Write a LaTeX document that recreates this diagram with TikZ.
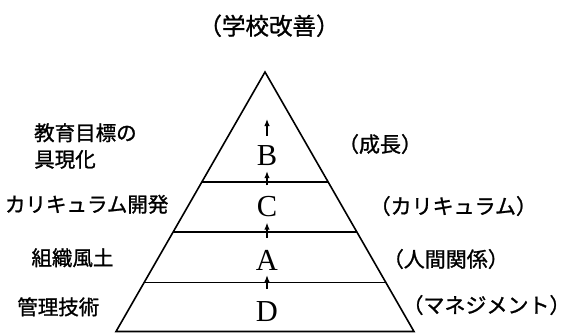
\documentclass[tikz,border=0pt]{standalone}
\usepackage{fontspec}
\setmainfont{Liberation Serif}
\newfontfamily\jp{Noto Sans CJK JP}[FakeBold=1.2]
\newcommand\lpar{\makebox[0.55em][r]{（}}
\newcommand\rpar{\makebox[0.55em][l]{）}}
\usetikzlibrary{calc,arrows.meta}
\begin{document}
\begin{tikzpicture}[x=1pt,y=-1pt,
  edge/.style={line width=1.6pt, line join=miter},
  letter/.style={inner sep=0pt, anchor=base, font=\fontsize{30.5}{30}\selectfont, text height=20pt, text depth=0pt},
  lab/.style={inner sep=0pt, anchor=base, font=\jp\fontsize{20.5}{24}\selectfont},
  rlab/.style={inner sep=0pt, anchor=base, font=\jp\fontsize{21}{24}\selectfont},
  toplab/.style={inner sep=0pt, anchor=base, font=\jp\fontsize{23.5}{26}\selectfont},
  arr/.style={line width=1.2pt, -{Latex[length=7pt,width=5.5pt]}}]
\useasboundingbox (0,0) rectangle (562,333);
% pyramid
\coordinate (apex) at (265,72);
\coordinate (bl) at (116,331.5);
\coordinate (br) at (414,331.5);
\draw[edge] (apex) -- (bl) -- (br) -- cycle;
\foreach \t in {0.424,0.6165,0.8104}
  \draw[edge] ($(apex)!\t!(bl)$) -- ($(apex)!\t!(br)$);
% letters
\node[letter] (B) at (267,165) {B};
\node[letter] (C) at (267,216.5) {C};
\node[letter] (A) at (267,270) {A};
\node[letter] (D) at (267,321.7) {D};
\coordinate (peak) at (267,119);
% arrows
\draw[arr] ([yshift=9pt]B.north) -- (peak);
\draw[arr] ([yshift=11pt]C.north) -- ([yshift=-6pt]B.south);
\draw[arr] ([yshift=12pt]A.north) -- ([yshift=-6pt]C.south);
\draw[arr] ([yshift=12.5pt]D.north) -- ([yshift=-5pt]A.south);
% labels
\node[toplab] (title) at (269,34.7) {\lpar 学校改善\rpar};
\node[lab, anchor=base west] (goal1) at (34,140.5) {教育目標の};
\node[lab, anchor=base west] (goal2) at (34,167) {具現化};
\node[lab] (cur) at (86.7,212) {カリキュラム開発};
\node[lab] (org) at (72.5,265.5) {組織風土};
\node[lab] (mgt) at (58.3,314.7) {管理技術};
\node[rlab] (rgrow) at (380,152) {\lpar 成長\rpar};
\node[rlab] (rcur) at (453.3,214) {\lpar カリキュラム\rpar};
\node[rlab] (rhum) at (445.8,267) {\lpar 人間関係\rpar};
\node[rlab] (rmgt) at (486.5,313) {\lpar マネジメント\rpar};
\end{tikzpicture}
\end{document}
